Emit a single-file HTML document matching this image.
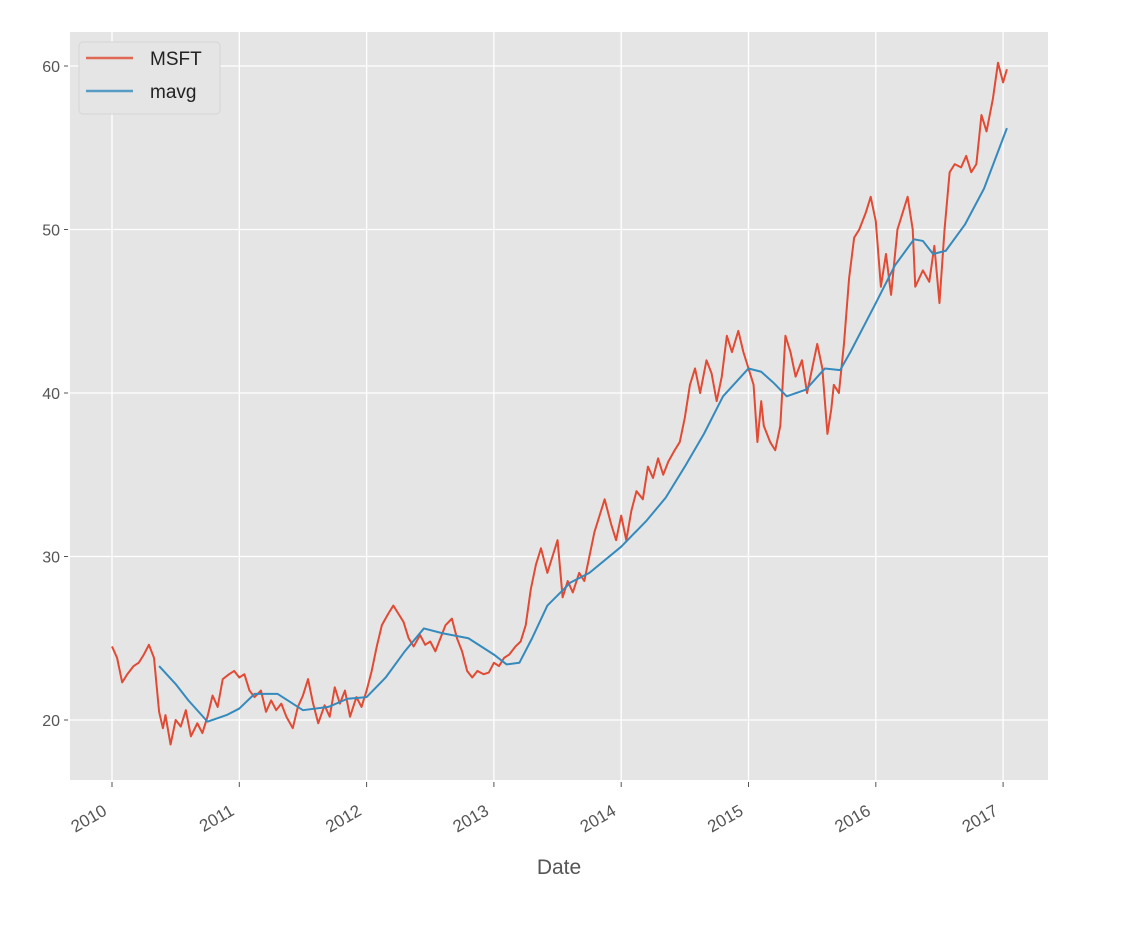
<!DOCTYPE html>
<html><head><meta charset="utf-8"><style>
body{margin:0;background:#fff;font-family:"Liberation Sans",sans-serif}
</style></head><body>
<svg id="c" width="1142" height="920" xmlns="http://www.w3.org/2000/svg"></svg>
<script>
const msftDates=[2010.0,2010.04,2010.08,2010.12,2010.17,2010.21,2010.25,2010.29,2010.33,2010.37,2010.4,2010.42,2010.46,2010.5,2010.54,2010.58,2010.62,2010.67,2010.71,2010.75,2010.79,2010.83,2010.87,2010.92,2010.96,2011.0,2011.04,2011.08,2011.12,2011.17,2011.21,2011.25,2011.29,2011.33,2011.37,2011.42,2011.46,2011.5,2011.54,2011.58,2011.62,2011.67,2011.71,2011.75,2011.79,2011.83,2011.87,2011.92,2011.96,2012.0,2012.04,2012.08,2012.12,2012.17,2012.21,2012.25,2012.29,2012.33,2012.37,2012.42,2012.46,2012.5,2012.54,2012.58,2012.62,2012.67,2012.71,2012.75,2012.79,2012.83,2012.87,2012.92,2012.96,2013.0,2013.04,2013.08,2013.12,2013.17,2013.21,2013.25,2013.29,2013.33,2013.37,2013.42,2013.46,2013.5,2013.54,2013.58,2013.62,2013.67,2013.71,2013.75,2013.79,2013.83,2013.87,2013.92,2013.96,2014.0,2014.04,2014.08,2014.12,2014.17,2014.21,2014.25,2014.29,2014.33,2014.37,2014.42,2014.46,2014.5,2014.54,2014.58,2014.62,2014.67,2014.71,2014.75,2014.79,2014.83,2014.87,2014.92,2014.96,2015.0,2015.04,2015.07,2015.1,2015.12,2015.17,2015.21,2015.25,2015.29,2015.33,2015.37,2015.42,2015.46,2015.5,2015.54,2015.58,2015.62,2015.65,2015.67,2015.71,2015.75,2015.79,2015.83,2015.87,2015.92,2015.96,2016.0,2016.04,2016.08,2016.12,2016.17,2016.21,2016.25,2016.29,2016.31,2016.37,2016.42,2016.46,2016.5,2016.54,2016.58,2016.62,2016.67,2016.71,2016.75,2016.79,2016.83,2016.87,2016.92,2016.96,2017.0,2017.03];
const msftValues=[24.5,23.8,22.3,22.8,23.3,23.5,24.0,24.6,23.8,20.5,19.5,20.3,18.5,20.0,19.6,20.6,19.0,19.8,19.2,20.2,21.5,20.8,22.5,22.8,23.0,22.6,22.8,21.8,21.4,21.8,20.5,21.2,20.6,21.0,20.2,19.5,20.8,21.5,22.5,21.0,19.8,20.9,20.2,22.0,21.0,21.8,20.2,21.4,20.8,21.8,23.0,24.5,25.8,26.5,27.0,26.5,26.0,25.0,24.5,25.2,24.6,24.8,24.2,25.0,25.8,26.2,25.0,24.2,23.0,22.6,23.0,22.8,22.9,23.5,23.3,23.8,24.0,24.5,24.8,25.8,28.0,29.5,30.5,29.0,30.0,31.0,27.5,28.5,27.8,29.0,28.5,30.0,31.5,32.5,33.5,32.0,31.0,32.5,31.0,32.8,34.0,33.5,35.5,34.8,36.0,35.0,35.8,36.5,37.0,38.5,40.5,41.5,40.0,42.0,41.2,39.5,41.0,43.5,42.5,43.8,42.5,41.5,40.5,37.0,39.5,38.0,37.0,36.5,38.0,43.5,42.5,41.0,42.0,40.0,41.5,43.0,41.5,37.5,39.0,40.5,40.0,43.0,47.0,49.5,50.0,51.0,52.0,50.5,46.5,48.5,46.0,50.0,51.0,52.0,50.0,46.5,47.5,46.8,49.0,45.5,50.0,53.5,54.0,53.8,54.5,53.5,54.0,57.0,56.0,58.0,60.2,59.0,59.8];
const mavgDates=[2010.37,2010.5,2010.6,2010.75,2010.9,2011.0,2011.12,2011.3,2011.5,2011.7,2011.85,2012.0,2012.15,2012.3,2012.45,2012.6,2012.8,2013.0,2013.1,2013.2,2013.3,2013.42,2013.6,2013.75,2014.0,2014.2,2014.35,2014.5,2014.65,2014.8,2015.0,2015.1,2015.2,2015.3,2015.45,2015.6,2015.72,2015.8,2016.0,2016.15,2016.3,2016.37,2016.45,2016.55,2016.7,2016.85,2017.03];
const mavgValues=[23.3,22.2,21.2,19.9,20.3,20.7,21.6,21.6,20.6,20.8,21.3,21.4,22.6,24.2,25.6,25.3,25.0,24.0,23.4,23.5,25.0,27.0,28.4,29.0,30.6,32.2,33.6,35.5,37.5,39.8,41.5,41.3,40.6,39.8,40.2,41.5,41.4,42.5,45.5,47.8,49.4,49.3,48.5,48.7,50.3,52.5,56.2];
const yTicks=[20,30,40,50,60];
const xTicks=[2010,2011,2012,2013,2014,2015,2016,2017];
const NS="http://www.w3.org/2000/svg",svg=document.getElementById('c');
const L=70,R=1048,T=32,B=780;
const x=v=>112+(v-2010)*127.3;
const y=v=>720-(v-20)*16.35;
function mk(t,a,p){const e=document.createElementNS(NS,t);for(const k in a)e.setAttribute(k,a[k]);(p||svg).appendChild(e);return e;}
const bg=mk('rect',{x:L,y:T,width:R-L,height:B-T,fill:'#e5e5e5'});


yTicks.forEach(v=>{
 const g=mk('line',{x1:L,x2:R,y1:y(v),y2:y(v),stroke:'#fff','stroke-width':1.3});
 
 
 mk('line',{x1:L-6,x2:L-2,y1:y(v),y2:y(v),stroke:'#555'});
 const t=mk('text',{x:L-10,y:y(v)+6,'text-anchor':'end','font-size':16,fill:'#555'});t.textContent=v;
 
 
});
xTicks.forEach(v=>{
 const g=mk('line',{x1:x(v),x2:x(v),y1:T,y2:B,stroke:'#fff','stroke-width':1.3});
 
 
 mk('line',{x1:x(v),x2:x(v),y1:B+2,y2:B+7,stroke:'#555'});
 const ax=x(v)-4, ay=B+34;
 const t=mk('text',{x:ax,y:ay,'text-anchor':'end','font-size':17,fill:'#555',transform:`rotate(-30 ${ax} ${ay})`});t.textContent=v;
 
 
});
const xl=mk('text',{x:559,y:874,'text-anchor':'middle','font-size':21,fill:'#555'});xl.textContent='Date';


function line(d,v,c,n){const p=mk('polyline',{points:d.map((t,i)=>x(t)+','+y(v[i])).join(' '),fill:'none',stroke:c,'stroke-width':2,'stroke-linejoin':'round'});
 
 }
line(msftDates,msftValues,'#e24a33','msft-line');
line(mavgDates,mavgValues,'#348abd','mavg-line');
const lg=mk('g',{});


mk('rect',{x:79,y:42,width:141,height:72,rx:4,fill:'#e5e5e5',stroke:'#d5d5d5'},lg);
mk('line',{x1:86,x2:133,y1:58,y2:58,stroke:'#e24a33','stroke-width':2.5,opacity:0.8},lg);
mk('line',{x1:86,x2:133,y1:91,y2:91,stroke:'#348abd','stroke-width':2.5,opacity:0.8},lg);
const t1=mk('text',{x:150,y:65,'font-size':19,fill:'#222'},lg);t1.textContent='MSFT';


const t2=mk('text',{x:150,y:98,'font-size':19,fill:'#222'},lg);t2.textContent='mavg';


</script>
</body></html>
